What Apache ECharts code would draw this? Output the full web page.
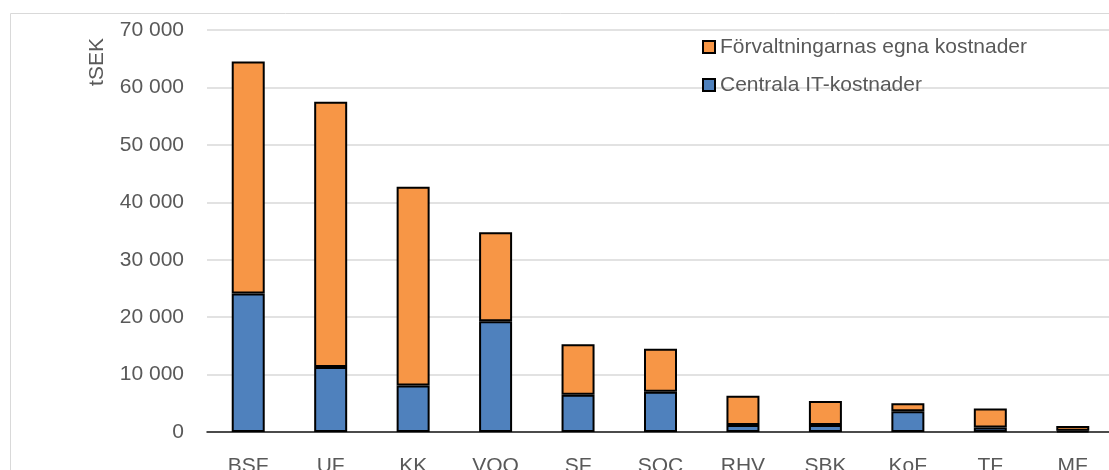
<!DOCTYPE html>
<html>
<head>
<meta charset="utf-8">
<script src="https://cdn.jsdelivr.net/npm/echarts@6/dist/echarts.min.js"></script>
<style>
  html, body { margin: 0; padding: 0; background: #fff; }
  #chart { width: 1109px; height: 470px; }
</style>
</head>
<body>
<div id="chart"></div>
<script>
var categories = ['BSF', 'UF', 'KK', 'VOO', 'SF', 'SOC', 'RHV', 'SBK', 'KoF', 'TF', 'MF']
// Centrala IT-kostnader (bottom)
var centralaIT = [24100, 11300, 8100, 19300, 6500, 7000, 1200, 1200, 3600, 800, 200]
// Förvaltningarnas egna kostnader (top)
var egnaKostnader = [40400, 46200, 34600, 15500, 8800, 7500, 5100, 4200, 1400, 3300, 850]
var yTicks = [0, 10000, 20000, 30000, 40000, 50000, 60000, 70000]

var textColor = '#595959'
var font = 'Liberation Sans'

var chart = echarts.init(document.getElementById('chart'))

chart.setOption({
  animation: false,
  textStyle: { fontFamily: font },
  graphic: [
    {
      type: 'rect',
      shape: { x: 10.5, y: 13.5, width: 1200, height: 600 },
      style: { fill: 'none', stroke: '#d9d9d9', lineWidth: 1 },
      silent: true
    },
    {
      type: 'text',
      x: 97,
      y: 62,
      rotation: Math.PI / 2,
      style: {
        text: 'tSEK',
        fill: textColor,
        font: '21px ' + font,
        align: 'center',
        verticalAlign: 'middle'
      }
    }
  ],
  grid: {
    left: 207,
    right: -5,
    top: 30,
    bottom: 38,
    outerBoundsMode: 'none',
    containLabel: false
  },
  legend: {
    orient: 'vertical',
    left: 697,
    top: 30,
    icon: 'rect',
    itemWidth: 12,
    itemHeight: 12,
    itemGap: 14,
    data: ['Förvaltningarnas egna kostnader', 'Centrala IT-kostnader'],
    textStyle: { color: textColor, fontSize: 21, lineHeight: 24, fontFamily: font }
  },
  xAxis: {
    type: 'category',
    data: categories,
    axisLine: { lineStyle: { color: '#1a1a1a', width: 1.5 } },
    axisTick: { show: false },
    axisLabel: { color: textColor, fontSize: 21, margin: 24 }
  },
  yAxis: {
    type: 'value',
    min: 0,
    max: yTicks[yTicks.length - 1],
    interval: yTicks[1] - yTicks[0],
    axisLine: { show: false },
    axisTick: { show: false },
    splitLine: { lineStyle: { color: '#d9d9d9', width: 1.5 } },
    axisLabel: {
      color: textColor,
      fontSize: 21,
      margin: 23,
      formatter: function (v) {
        return String(v).replace(/\B(?=(\d{3})+(?!\d))/g, ' ')
      }
    }
  },
  series: [
    {
      name: 'Centrala IT-kostnader',
      type: 'bar',
      stack: 'total',
      barWidth: 33,
      data: centralaIT,
      itemStyle: { color: '#4F81BD', borderColor: '#000', borderWidth: 2 }
    },
    {
      name: 'Förvaltningarnas egna kostnader',
      type: 'bar',
      stack: 'total',
      barWidth: 33,
      data: egnaKostnader,
      itemStyle: { color: '#F79646', borderColor: '#000', borderWidth: 2 }
    }
  ]
})
</script>
</body>
</html>
